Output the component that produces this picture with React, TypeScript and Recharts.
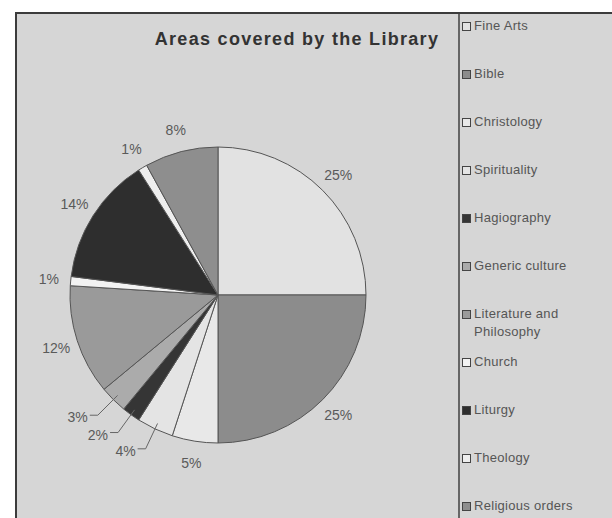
// App.tsx
import React from "react";
import { PieChart, Pie, Cell, Legend } from "recharts";

const areas = [
  "Fine Arts",
  "Bible",
  "Christology",
  "Spirituality",
  "Hagiography",
  "Generic culture",
  "Literature and Philosophy",
  "Church",
  "Liturgy",
  "Theology",
  "Religious orders",
];
const shares = [25, 25, 5, 4, 2, 3, 12, 1, 14, 1, 8];
const fills = [
  "#e2e2e2",
  "#8c8c8c",
  "#e8e8e8",
  "#e4e4e4",
  "#353535",
  "#ababab",
  "#9a9a9a",
  "#f2f2f2",
  "#2e2e2e",
  "#eeeeee",
  "#8e8e8e",
];

const data = areas.map((name, i) => ({ name, value: shares[i] }));

const RADIAN = Math.PI / 180;
const FONT = "'Liberation Sans', Arial, sans-serif";

// small slices next to other small slices get pushed out with a leader line
const isCrowded = (i: number) => {
  const v = shares[i];
  const prev = shares[(i - 1 + shares.length) % shares.length];
  const next = shares[(i + 1) % shares.length];
  return v < 5 && (prev < 5 || next < 5);
};

function renderLabel(props: any) {
  const { cx, cy, midAngle, outerRadius, percent, index } = props;
  const cos = Math.cos(-midAngle * RADIAN);
  const sin = Math.sin(-midAngle * RADIAN);
  const txt = `${Math.round(percent * 100)}%`;

  if (isCrowded(index)) {
    const sx = cx + (outerRadius - 6) * cos;
    const sy = cy + (outerRadius - 6) * sin;
    const ex = cx + (outerRadius + 22) * cos;
    const ey = cy + (outerRadius + 22) * sin;
    const hx = ex - 8;
    return (
      <g>
        <path d={`M${sx},${sy}L${ex},${ey}L${hx},${ey}`} stroke="#666" fill="none" strokeWidth={1} />
        <text x={hx - 2} y={ey + 2} textAnchor="end" dominantBaseline="central" fill="#5a5a5a" fontSize={14} fontFamily={FONT}>
          {txt}
        </text>
      </g>
    );
  }

  const r = outerRadius + 22;
  return (
    <text
      x={cx + r * cos}
      y={cy + r * sin}
      textAnchor="middle"
      dominantBaseline="central"
      fill="#5a5a5a"
      fontSize={14}
      fontFamily={FONT}
    >
      {txt}
    </text>
  );
}

function LegendList(props: any) {
  const { payload = [] } = props;
  const items = [...payload].sort((a: any, b: any) => areas.indexOf(a.value) - areas.indexOf(b.value));
  return (
    <ul style={{ listStyle: "none", margin: 0, padding: 0, fontFamily: FONT, fontSize: 13, color: "#555", letterSpacing: 0.3 }}>
      {items.map((entry: any) => {
        const i = areas.indexOf(entry.value);
        return (
          <li key={entry.value} style={{ height: 48, display: "flex", alignItems: "flex-start", lineHeight: "18px" }}>
            <span
              style={{
                display: "inline-block",
                width: 7,
                height: 7,
                marginTop: 5,
                marginRight: 3,
                flex: "0 0 auto",
                background: fills[i],
                border: "1px solid #444",
              }}
            />
            <span style={{ width: 125 }}>{entry.value}</span>
          </li>
        );
      })}
    </ul>
  );
}

export default function App() {
  return (
    <div style={{ position: "absolute", left: 0, top: 0, width: 612, height: 518, background: "#fff", overflow: "hidden" }}>
      <div
        style={{
          position: "absolute",
          left: 15,
          top: 12,
          width: 620,
          height: 520,
          background: "#d6d6d6",
          borderTop: "2px solid #3c3c3c",
          borderLeft: "2px solid #3c3c3c",
        }}
      />
      <div
        style={{
          position: "absolute",
          left: 458,
          top: 14,
          width: 2,
          height: 510,
          background: "#666",
        }}
      />
      <div
        style={{
          position: "absolute",
          left: 140,
          top: 29,
          width: 314,
          textAlign: "center",
          fontFamily: FONT,
          fontWeight: "bold",
          fontSize: 18,
          letterSpacing: 1.3,
          color: "#333",
        }}
      >
        Areas covered by the Library
      </div>
      <div style={{ position: "absolute", left: 0, top: 0 }}>
        <PieChart width={612} height={518} margin={{ top: 0, right: 0, bottom: 0, left: 0 }}>
          <Pie
            data={data}
            dataKey="value"
            nameKey="name"
            cx={218}
            cy={295}
            outerRadius={148}
            startAngle={90}
            endAngle={-270}
            stroke="#555"
            strokeWidth={1}
            label={renderLabel}
            labelLine={false}
            isAnimationActive={false}
          >
            {data.map((d, i) => (
              <Cell key={d.name} fill={fills[i]} />
            ))}
          </Pie>
          <Legend
            layout="vertical"
            align="right"
            verticalAlign="top"
            content={<LegendList />}
            wrapperStyle={{ left: 462, top: 17, width: 150 }}
          />
        </PieChart>
      </div>
    </div>
  );
}
